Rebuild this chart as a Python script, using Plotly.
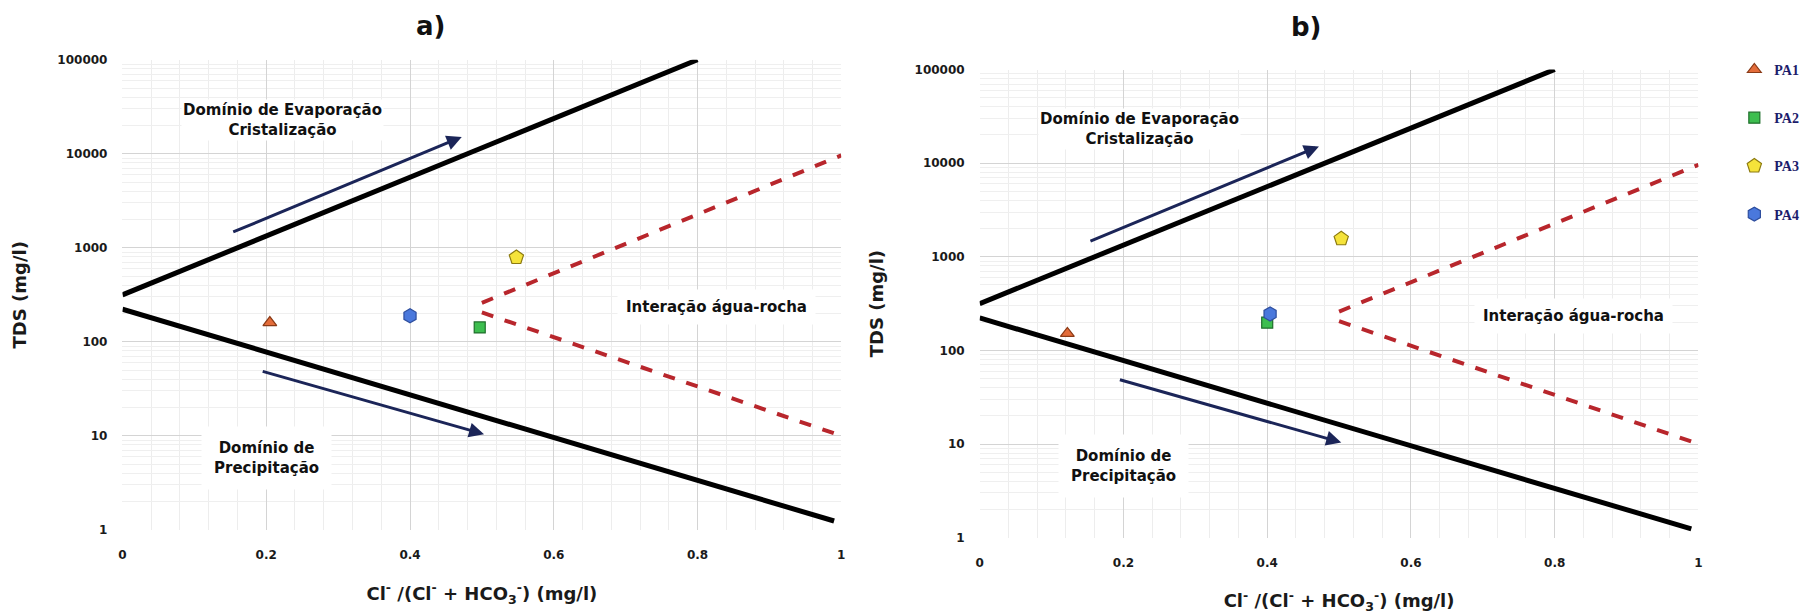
import plotly.graph_objects as go
import math

# ---- data ----
series_names = ["PA1", "PA2", "PA3", "PA4"]
a_x = [0.205, 0.497, 0.548, 0.400]
a_tds = [160, 142, 790, 189]
b_x = [0.122, 0.400, 0.503, 0.404]
b_tds = [152, 198, 1560, 245]

upper_line_x = [0.0, 0.8]
upper_line_y = [316, 100000]
lower_line_x = [0.0, 0.99]
lower_line_y = [222, 1.24]
red_up_x = [0.5, 1.0]
red_up_y = [260, 9600]
red_low_x = [0.5, 1.0]
red_low_y = [205, 10]

x_ticks = [0, 0.2, 0.4, 0.6, 0.8, 1]
x_ticktext = ["0", "0.2", "0.4", "0.6", "0.8", "1"]
y_ticks = [1, 10, 100, 1000, 10000, 100000]
y_ticktext = ["1", "10", "100", "1000", "10000", "100000"]

marker_symbols = ["triangle-up", "square", "pentagon", "hexagon"]
marker_colors = ["#E36C3A", "#3DBE4F", "#F5E33A", "#4A78DC"]
marker_lines = ["#8A3A16", "#1E6E2A", "#8C7A10", "#2E4E9E"]
marker_sizes = [12, 11, 15, 14]

W, H = 1813, 614
fig = go.Figure()

panels = [("x", "y", a_x, a_tds, False), ("x2", "y2", b_x, b_tds, True)]
for xa, ya, xs, ys, show in panels:
    fig.add_trace(go.Scatter(x=upper_line_x, y=upper_line_y, mode="lines",
                             line=dict(color="black", width=5), xaxis=xa, yaxis=ya,
                             showlegend=False, hoverinfo="skip"))
    fig.add_trace(go.Scatter(x=lower_line_x, y=lower_line_y, mode="lines",
                             line=dict(color="black", width=5), xaxis=xa, yaxis=ya,
                             showlegend=False, hoverinfo="skip"))
    fig.add_trace(go.Scatter(x=red_up_x, y=red_up_y, mode="lines",
                             line=dict(color="#B8262C", width=4, dash="dash"), xaxis=xa, yaxis=ya,
                             showlegend=False, hoverinfo="skip"))
    fig.add_trace(go.Scatter(x=red_low_x, y=red_low_y, mode="lines",
                             line=dict(color="#B8262C", width=4, dash="dash"), xaxis=xa, yaxis=ya,
                             showlegend=False, hoverinfo="skip"))
    for i, name in enumerate(series_names):
        fig.add_trace(go.Scatter(x=[xs[i]], y=[ys[i]], mode="markers", name=name,
                                 marker=dict(symbol=marker_symbols[i], color=marker_colors[i],
                                             size=marker_sizes[i],
                                             line=dict(color=marker_lines[i], width=1.2)),
                                 xaxis=xa, yaxis=ya, showlegend=show, legendgroup=name))

# domains from pixel positions
def xd(p0, p1):
    return [p0 / W, p1 / W]

def yd(top, bottom):
    return [1 - bottom / H, 1 - top / H]

tickfont = dict(family="DejaVu Sans", size=12, color="#1a1a1a", weight="bold")
title_font = dict(family="DejaVu Sans", size=18, color="#1a1a1a")

xaxis_common = dict(range=[0, 1], tickvals=x_ticks, ticktext=x_ticktext, showgrid=True,
                    gridcolor="#d4d4d4", gridwidth=1, zeroline=False, showline=False,
                    ticks="", tickfont=tickfont, ticklabelstandoff=16,
                    minor=dict(dtick=0.04, showgrid=True, gridcolor="#ededed", gridwidth=1),
                    title=dict(text="<b>Cl<sup>-</sup> /(Cl<sup>-</sup> + HCO<sub>3</sub><sup>-</sup>) (mg/l)</b>",
                               font=title_font, standoff=26))
yaxis_common = dict(type="log", range=[0, 5], tickvals=y_ticks, ticktext=y_ticktext, showgrid=True,
                    gridcolor="#d4d4d4", gridwidth=1, zeroline=False, showline=False,
                    ticks="", tickfont=tickfont, ticklabelstandoff=14,
                    minor=dict(dtick="D1", showgrid=True, gridcolor="#efefef", gridwidth=1),
                    title=dict(text="<b>TDS (mg/l)</b>", font=title_font, standoff=26))

fig.update_layout(
    width=W, height=H,
    margin=dict(l=0, r=0, t=0, b=0),
    paper_bgcolor="white", plot_bgcolor="white",
    xaxis=dict(domain=xd(119, 841), anchor="y", **xaxis_common),
    yaxis=dict(domain=yd(54, 535), anchor="x", **yaxis_common),
    xaxis2=dict(domain=xd(980, 1702), anchor="y2", **xaxis_common),
    yaxis2=dict(domain=yd(64, 543), anchor="x2", **yaxis_common),
    legend=dict(x=1738 / W, y=1 - 48 / H, xanchor="left", yanchor="top",
                font=dict(family="Liberation Serif", size=14, color="#1c1c6b", weight="bold"),
                tracegroupgap=27, bgcolor="rgba(0,0,0,0)"),
    showlegend=True,
)

ann = []
# panel titles
ann.append(dict(text="<b>a)</b>", x=428 / W, y=1 - 19 / H, xref="paper", yref="paper",
                xanchor="center", yanchor="middle",
                showarrow=False, font=dict(family="DejaVu Sans", size=26, color="#111")))
ann.append(dict(text="<b>b)</b>", x=1308 / W, y=1 - 20 / H, xref="paper", yref="paper",
                xanchor="center", yanchor="middle",
                showarrow=False, font=dict(family="DejaVu Sans", size=26, color="#111")))

label_font = dict(family="DejaVu Sans", size=15, color="#111")
for xr, yr in [("x", "y"), ("x2", "y2")]:
    ann.append(dict(text="<b>Domínio de Evaporação<br>Cristalização</b>", x=0.223, y=4.36,
                    xref=xr, yref=yr, showarrow=False, font=label_font, bgcolor="white"))
    ann.append(dict(text="<b>Interação água-rocha</b>", x=0.826, y=2.37,
                    xref=xr, yref=yr, showarrow=False, font=label_font, bgcolor="white",
                    borderpad=8))
    ann.append(dict(text="<b>Domínio de<br>Precipitação</b>", x=0.20, y=0.76,
                    xref=xr, yref=yr, showarrow=False, font=label_font, bgcolor="white",
                    borderpad=12))
    # arrows
    ann.append(dict(x=0.472, y=math.log10(15100), ax=0.152, ay=math.log10(1450),
                    xref=xr, yref=yr, axref=xr, ayref=yr, showarrow=True, text="",
                    arrowhead=2, arrowsize=1.0, arrowwidth=3, arrowcolor="#1B2558"))
    ann.append(dict(x=0.503, y=math.log10(10.4), ax=0.193, ay=math.log10(49),
                    xref=xr, yref=yr, axref=xr, ayref=yr, showarrow=True, text="",
                    arrowhead=2, arrowsize=1.0, arrowwidth=3, arrowcolor="#1B2558"))

fig.update_layout(annotations=ann)
fig.write_html("out.html")
